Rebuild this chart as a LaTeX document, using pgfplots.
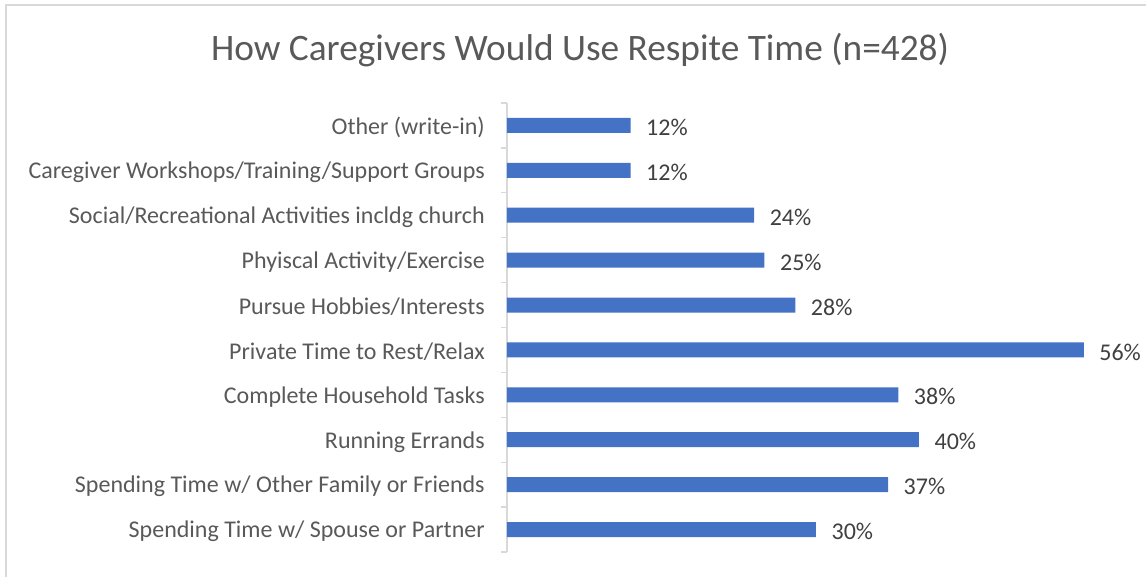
\documentclass[border=0pt]{standalone}
\usepackage{pgfplots}
\pgfplotsset{compat=1.18}
\usepackage{fontspec}
\setmainfont{Carlito}
\definecolor{barblue}{HTML}{4472C4}
\definecolor{txtgray}{HTML}{595959}
\definecolor{valgray}{HTML}{404040}
\definecolor{axgray}{HTML}{D9D9D9}
\begin{document}
\begin{tikzpicture}
\path[use as bounding box] (0,0) rectangle (859.5pt,432.75pt);
\draw[axgray, line width=1.5pt] (4.5pt,-1pt) -- (4.5pt,429pt) -- (861pt,429pt);
\node[anchor=base, text=txtgray, font=\fontsize{28}{33}\selectfont] at (435pt,387pt) {How Caregivers Would Use Respite Time (n=428)};
\begin{axis}[
  at={(380.25pt,18.75pt)}, anchor=south west,
  scale only axis, width=463.5pt, height=336.75pt,
  xbar, bar width=11.25pt,
  xmin=0, xmax=60, ymin=-0.5, ymax=9.5,
  axis x line=none,
  axis y line*=left,
  y axis line style={draw=axgray, line width=1pt},
  ytick={0,...,9},
  yticklabels={Spending Time w/ Spouse or Partner,Spending Time w/ Other Family or Friends,Running Errands,Complete Household Tasks,Private Time to Rest/Relax,Pursue Hobbies/Interests,Phyiscal Activity/Exercise,Social/Recreational Activities incldg church,Caregiver Workshops/Training/Support Groups,Other (write-in)},
  major tick length=0pt,
  minor ytick={-0.5,0.5,...,9.5},
  minor tick length=4.5pt,
  tick align=outside,
  minor tick style={draw=axgray, line width=1pt},
  yticklabel style={text=txtgray, font=\fontsize{18}{21}\selectfont, inner sep=0pt, xshift=-16.5pt, yshift=-1.5pt},
  /pgf/number format/assume math mode=true,
  nodes near coords={\pgfmathprintnumber{\pgfplotspointmeta}\%},
  every node near coord/.append style={text=valgray, font=\fontsize{18}{21}\selectfont, anchor=west, inner sep=0pt, xshift=11.5pt, yshift=-1.5pt},
  clip=false,
]
\addplot[fill=barblue, draw=none] coordinates {
(30,0) (37,1) (40,2) (38,3) (56,4) (28,5) (25,6) (24,7) (12,8) (12,9)
};
\end{axis}
\end{tikzpicture}
\end{document}
